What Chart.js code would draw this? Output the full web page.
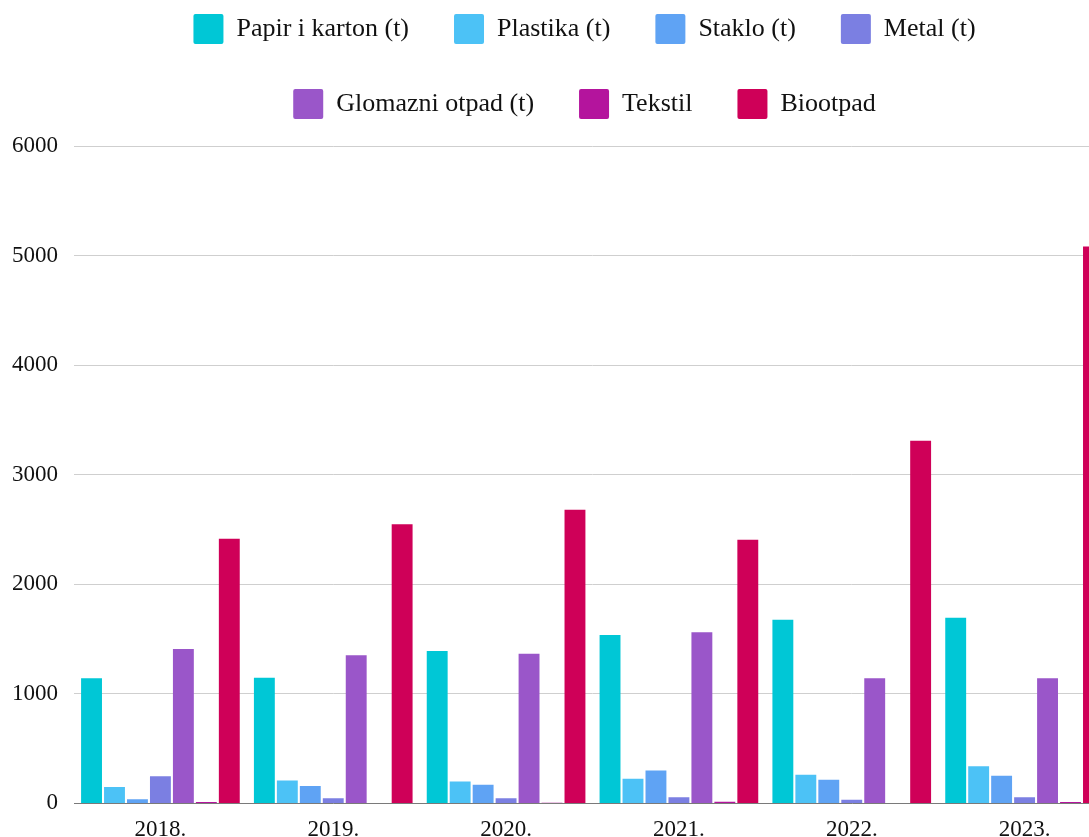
<!DOCTYPE html>
<html>
<head>
<meta charset="utf-8">
<script src="https://cdn.jsdelivr.net/npm/chart.js@4"></script>
<style>
  html, body { margin: 0; padding: 0; background: #fff; overflow: hidden; }
  #wrap { width: 1173px; height: 853px; position: relative; }
</style>
</head>
<body>
<div id="wrap"><canvas id="myChart"></canvas></div>
<script>
let years = ["2018.", "2019.", "2020.", "2021.", "2022.", "2023."];
let papirData = [1142, 1147, 1391, 1537, 1677, 1695];
let plastikaData = [149, 210, 201, 225, 261, 338];
let stakloData = [39, 158, 170, 301, 216, 252];
let metalData = [247, 46, 46, 55, 33, 55];
let glomazniData = [1409, 1352, 1366, 1562, 1142, 1142];
let tekstilData = [12, 0, 5, 15, 0, 12];
let biootpadData = [2416, 2548, 2679, 2407, 3309, 5083];
let seriesNames = [
  "Papir i karton (t)",
  "Plastika (t)",
  "Staklo (t)",
  "Metal (t)",
  "Glomazni otpad (t)",
  "Tekstil",
  "Biootpad",
];
let seriesColors = [
  "#00c7d6",
  "#4cc2f6",
  "#5fa3f4",
  "#7b7fe2",
  "#9a56c9",
  "#b4149d",
  "#cf0058",
];
let yTicks = [0, 1000, 2000, 3000, 4000, 5000, 6000];

const allSeries = [
  papirData,
  plastikaData,
  stakloData,
  metalData,
  glomazniData,
  tekstilData,
  biootpadData,
];

const serif = "'Liberation Serif', 'Times New Roman', serif";

// legend: wrap after "Metal (t)" and leave more room under it
const legendMargin = {
  id: "legendMargin",
  beforeInit(chart) {
    const fitValue = chart.legend.fit;
    chart.legend.fit = function fit() {
      const full = this.maxWidth;
      this.maxWidth = full - 120;
      fitValue.bind(chart.legend)();
      this.maxWidth = full;
      this.width = full;
      this.height += 17;
    };
  },
};

let dataStats = {
  labels: years,
  datasets: allSeries.map((values, i) => ({
    label: seriesNames[i],
    data: values,
    backgroundColor: seriesColors[i],
    borderWidth: 0,
    categoryPercentage: 0.93,
    barPercentage: 0.91,
  })),
};

let optionsOfStats = {
  responsive: true,
  maintainAspectRatio: false,
  animation: false,
  layout: {
    padding: { top: -31, left: -4, right: 0, bottom: 4 },
  },
  scales: {
    x: {
      grid: { display: false },
      border: { display: true, color: "#7a7a7a", width: 1 },
      ticks: {
        color: "#111",
        padding: 5,
        font: { family: serif, size: 23 },
      },
    },
    y: {
      min: 0,
      max: 6000,
      afterBuildTicks(scale) {
        scale.ticks = yTicks.map((v) => ({ value: v }));
      },
      grid: { color: "#cfcfcf", drawTicks: false, lineWidth: 1 },
      border: { display: false },
      ticks: {
        color: "#111",
        padding: 16,
        font: { family: serif, size: 23 },
        callback: (value) => String(value),
      },
    },
    // empty axis on the right so the plot runs past the window edge
    yRight: {
      position: "right",
      display: true,
      grid: { display: false },
      border: { display: false },
      ticks: { display: false },
      afterFit(scale) {
        scale.width = 62;
      },
    },
  },
  plugins: {
    legend: {
      position: "top",
      labels: {
        color: "#111",
        boxWidth: 30,
        boxHeight: 30,
        padding: 45,
        useBorderRadius: true,
        borderRadius: 2,
        font: { family: serif, size: 26 },
      },
    },
    tooltip: { enabled: false },
  },
};

function chartJs() {
  const ctx = document.getElementById("myChart");
  new Chart(ctx, {
    type: "bar",
    data: dataStats,
    options: optionsOfStats,
    plugins: [legendMargin],
  });
}

chartJs();
</script>
</body>
</html>
